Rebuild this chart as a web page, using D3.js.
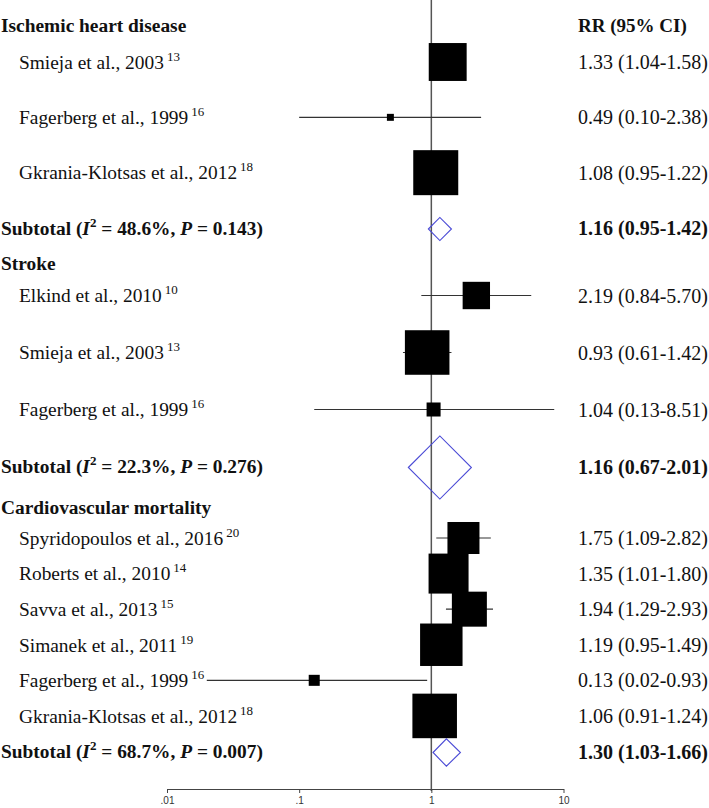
<!DOCTYPE html>
<html>
<head>
<meta charset="utf-8">
<script src="https://cdn.jsdelivr.net/npm/d3@7"></script>
<style>
  body { margin: 0; background: #fff; }
  svg { display: block; }
  text { font-family: "Liberation Serif", "Times New Roman", serif; fill: #111; }
  .tick-label { font-family: "Liberation Sans", Arial, sans-serif; font-size: 10px; fill: #333; }
</style>
</head>
<body>
<div id="chart"></div>
<script>
// Forest plot: RR of outcomes by subgroup (log scale)

// Row kinds, top to bottom
var rowTypes = ["header", "study", "study", "study", "subtotal",
                "header", "study", "study", "study", "subtotal",
                "header", "study", "study", "study", "study", "study", "study", "subtotal"];

var rowLabels = ["Ischemic heart disease", "Smieja et al., 2003", "Fagerberg et al., 1999", "Gkrania-Klotsas et al., 2012", "Subtotal",
                 "Stroke", "Elkind et al., 2010", "Smieja et al., 2003", "Fagerberg et al., 1999", "Subtotal",
                 "Cardiovascular mortality", "Spyridopoulos et al., 2016", "Roberts et al., 2010", "Savva et al., 2013",
                 "Simanek et al., 2011", "Fagerberg et al., 1999", "Gkrania-Klotsas et al., 2012", "Subtotal"];

var refNumbers = [null, "13", "16", "18", null,
                  null, "10", "13", "16", null,
                  null, "20", "14", "15", "19", "16", "18", null];

// heterogeneity for subtotals: I2 and P
var subtotalI2 = [null, null, null, null, "48.6%", null, null, null, null, "22.3%",
                  null, null, null, null, null, null, null, "68.7%"];
var subtotalP = [null, null, null, null, "0.143", null, null, null, null, "0.276",
                 null, null, null, null, null, null, null, "0.007"];

var rr    = [null, 1.33, 0.49, 1.08, 1.16, null, 2.19, 0.93, 1.04, 1.16, null, 1.75, 1.35, 1.94, 1.19, 0.13, 1.06, 1.30];
var lower = [null, 1.04, 0.10, 0.95, 0.95, null, 0.84, 0.61, 0.13, 0.67, null, 1.09, 1.01, 1.29, 0.95, 0.02, 0.91, 1.03];
var upper = [null, 1.58, 2.38, 1.22, 1.42, null, 5.70, 1.42, 8.51, 2.01, null, 2.82, 1.80, 2.93, 1.49, 0.93, 1.24, 1.66];

// relative study weights (box area)
var weights = [null, 71, 2.4, 100, null, null, 37, 98, 9.7, null, null, 50.6, 79, 60.5, 89, 6, 98, null];

var tickValues = [0.01, 0.1, 1, 10];
var tickLabels = [".01", ".1", "1", "10"];

// Chart params
var svgWidth = 709;
var svgHeight = 808;
var axisY = 789;

var svg = d3.select("#chart")
    .append("svg")
    .attr("width", svgWidth)
    .attr("height", svgHeight);

// x: log scale for RR
var xScale = d3.scaleLog()
    .domain([0.01, 10])
    .range([167, 563.5]);

// y: piecewise row layout (top groups are spaced wider than the last one)
var yScale = d3.scaleLinear()
    .domain([0, 1, 4, 5, 6, 9, 10, 11, 17])
    .range([25, 62, 228, 263, 295.5, 466.5, 507, 538, 751.5]);

var boxSize = d3.scaleSqrt()
    .domain([0, 100])
    .range([0, 45]);

var rows = rowTypes.map(function(t, i) {
    return {
        type: t, label: rowLabels[i], ref: refNumbers[i],
        i2: subtotalI2[i], p: subtotalP[i],
        rr: rr[i], lo: lower[i], hi: upper[i], w: weights[i], y: yScale(i)
    };
});

// reference line at RR = 1
svg.append("line")
    .attr("x1", xScale(1)).attr("x2", xScale(1))
    .attr("y1", 0).attr("y2", axisY + 2)
    .attr("stroke", "#555")
    .attr("stroke-width", 1.5);

// x axis
var xAxis = d3.axisBottom(xScale)
    .tickValues(tickValues)
    .tickFormat(function(d, i) { return tickLabels[i]; })
    .tickSize(4)
    .tickSizeOuter(0);

var axisG = svg.append("g")
    .attr("transform", "translate(0," + axisY + ")")
    .call(xAxis);
axisG.select(".domain").attr("stroke", "#444").attr("stroke-width", 1.2);
axisG.selectAll(".tick line").attr("stroke", "#444");
axisG.selectAll(".tick text")
    .attr("class", "tick-label")
    .attr("y", 8)
    .attr("dy", "0.71em");

var studies = rows.filter(function(d) { return d.type === "study"; });
var subtotals = rows.filter(function(d) { return d.type === "subtotal"; });

// CI lines
svg.selectAll("line.ci")
    .data(studies)
    .join("line")
    .attr("class", "ci")
    .attr("x1", function(d) { return xScale(d.lo); })
    .attr("x2", function(d) { return xScale(d.hi); })
    .attr("y1", function(d) { return d.y; })
    .attr("y2", function(d) { return d.y; })
    .attr("stroke", "#333")
    .attr("stroke-width", 1.2);

// weight boxes
svg.selectAll("rect.box")
    .data(studies)
    .join("rect")
    .attr("class", "box")
    .attr("x", function(d) { return xScale(d.rr) - boxSize(d.w) / 2; })
    .attr("y", function(d) { return d.y - boxSize(d.w) / 2; })
    .attr("width", function(d) { return boxSize(d.w); })
    .attr("height", function(d) { return boxSize(d.w); })
    .attr("fill", "#000");

// subtotal diamonds (height equal to width, as in the picture)
svg.selectAll("path.diamond")
    .data(subtotals)
    .join("path")
    .attr("class", "diamond")
    .attr("d", function(d) {
        var x0 = xScale(d.lo), x1 = xScale(d.hi), xm = xScale(d.rr);
        var h = (x1 - x0) / 2;
        var yc = d.y + 1;
        return "M" + x0 + "," + yc + "L" + xm + "," + (yc - h) +
               "L" + x1 + "," + yc + "L" + xm + "," + (yc + h) + "Z";
    })
    .attr("fill", "none")
    .attr("stroke", "#4b4bd6")
    .attr("stroke-width", 1.1);

// left labels
var labels = svg.selectAll("text.label")
    .data(rows)
    .join("text")
    .attr("class", "label")
    .attr("x", function(d) { return d.type === "study" ? 19 : 1; })
    .attr("y", function(d) { return d.y; })
    .attr("dy", "0.35em")
    .attr("font-size", 19.4)
    .attr("font-weight", function(d) { return d.type === "study" ? "normal" : "bold"; });

labels.each(function(d) {
    var t = d3.select(this);
    if (d.type === "study") {
        t.append("tspan").text(d.label);
        t.append("tspan").attr("dx", 3).attr("dy", -8).attr("font-size", 13).text(d.ref);
    } else if (d.type === "subtotal") {
        t.append("tspan").text("Subtotal (");
        t.append("tspan").attr("font-style", "italic").text("I");
        t.append("tspan").attr("dy", -8).attr("font-size", 13).text("2");
        t.append("tspan").attr("dy", 8).text(" = " + d.i2 + ", ");
        t.append("tspan").attr("font-style", "italic").text("P");
        t.append("tspan").text(" = " + d.p + ")");
    } else {
        t.text(d.label);
    }
});

// right column: RR (95% CI)
svg.append("text")
    .attr("x", 578)
    .attr("y", yScale(0))
    .attr("dy", "0.35em")
    .attr("font-size", 19)
    .attr("font-weight", "bold")
    .text("RR (95% CI)");

svg.selectAll("text.rr")
    .data(rows.filter(function(d) { return d.type !== "header"; }))
    .join("text")
    .attr("class", "rr")
    .attr("x", 578)
    .attr("y", function(d) { return d.y; })
    .attr("dy", "0.35em")
    .attr("font-size", 20)
    .attr("font-weight", function(d) { return d.type === "subtotal" ? "bold" : "normal"; })
    .text(function(d) {
        return d.rr.toFixed(2) + " (" + d.lo.toFixed(2) + "-" + d.hi.toFixed(2) + ")";
    });
</script>
</body>
</html>
